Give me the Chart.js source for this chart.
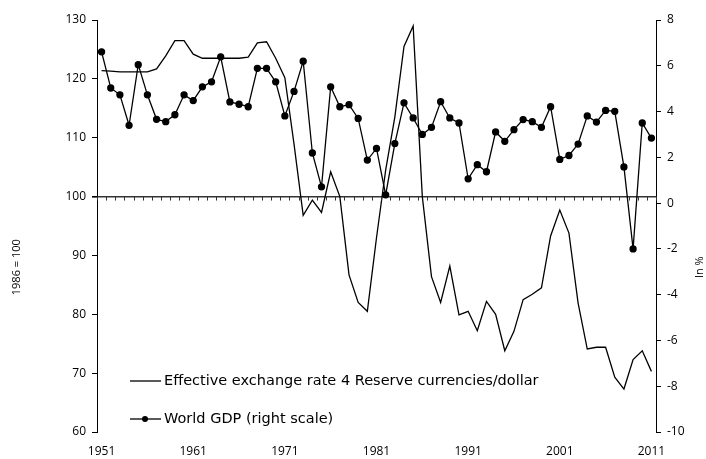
<!DOCTYPE html>
<html>
<head>
<meta charset="utf-8">
<script src="https://cdn.jsdelivr.net/npm/chart.js@4.4.0/dist/chart.umd.min.js"></script>
<style>
  body { margin: 0; background: #fff; }
  #wrap { width: 706px; height: 459px; position: relative; }
</style>
</head>
<body>
<div id="wrap"><canvas id="rateChart"></canvas></div>
<script>
// Years on the category axis
const years = [
  "1951", "1952", "1953", "1954", "1955", "1956", "1957", "1958", "1959", "1960",
  "1961", "1962", "1963", "1964", "1965", "1966", "1967", "1968", "1969", "1970",
  "1971", "1972", "1973", "1974", "1975", "1976", "1977", "1978", "1979", "1980",
  "1981", "1982", "1983", "1984", "1985", "1986", "1987", "1988", "1989", "1990",
  "1991", "1992", "1993", "1994", "1995", "1996", "1997", "1998", "1999", "2000",
  "2001", "2002", "2003", "2004", "2005", "2006", "2007", "2008", "2009", "2010",
  "2011"
];

// Effective exchange rate, 1986 = 100 (left scale)
const exchangeRate = [
  121.4, 121.3, 121.2, 121.2, 121.2, 121.2, 121.7, 123.9, 126.5, 126.5,
  124.2, 123.5, 123.5, 123.5, 123.5, 123.5, 123.7, 126.1, 126.3, 123.5,
  120.2, 108.9, 96.8, 99.4, 97.3, 104.2, 100.0, 86.7, 82.0, 80.5,
  93.0, 104.5, 113.5, 125.5, 129.0, 100.0, 86.4, 82.0, 88.2, 79.9,
  80.5, 77.2, 82.2, 80.0, 73.8, 77.1, 82.5, 83.4, 84.5, 93.3,
  97.7, 93.8, 81.9, 74.1, 74.4, 74.4, 69.3, 67.3, 72.3, 73.8,
  70.3
];

// World GDP growth in % (right scale)
const worldGdp = [
  6.61, 5.03, 4.73, 3.40, 6.05, 4.73, 3.66, 3.56, 3.86, 4.73,
  4.48, 5.08, 5.30, 6.39, 4.42, 4.32, 4.21, 5.89, 5.89, 5.30,
  3.81, 4.88, 6.20, 2.19, 0.71, 5.08, 4.21, 4.30, 3.70, 1.88,
  2.39, 0.36, 2.60, 4.38, 3.72, 3.00, 3.31, 4.43, 3.72, 3.50,
  1.06, 1.68, 1.37, 3.11, 2.70, 3.21, 3.65, 3.56, 3.31, 4.21,
  1.91, 2.08, 2.58, 3.81, 3.54, 4.05, 4.01, 1.58, -2.00, 3.50,
  2.84
];

const seriesLabels = [
  "Effective exchange rate 4 Reserve currencies/dollar",
  "World GDP (right scale)"
];
const leftTitle = "1986 = 100";
const rightTitle = "In %";

const fontFamily = "'Open Sans', 'DejaVu Sans', sans-serif";
const legendFont = "'DejaVu Sans', sans-serif";

// minor ticks along the 100 line, legend inside the plot, axis titles
const decorations = {
  id: "decorations",
  afterDatasetsDraw(chart) {
    const { ctx, chartArea, scales } = chart;
    const x = scales.x;
    const yBase = scales.y.getPixelForValue(100);
    const half = (x.getPixelForValue(1) - x.getPixelForValue(0)) / 2;

    ctx.save();
    ctx.strokeStyle = "#333";
    ctx.lineWidth = 1;
    for (let i = 0; i <= years.length; i++) {
      const px = Math.round(x.getPixelForValue(i) - half) + 0.5;
      ctx.beginPath();
      ctx.moveTo(px, yBase);
      ctx.lineTo(px, yBase + 4);
      ctx.stroke();
    }

    // legend
    const lx = chartArea.left + 33;
    const rows = [chartArea.bottom - 51, chartArea.bottom - 13];
    ctx.font = "14.5px " + legendFont;
    ctx.fillStyle = "#000";
    ctx.textBaseline = "middle";
    rows.forEach((ly, i) => {
      ctx.strokeStyle = "#000";
      ctx.lineWidth = 1.3;
      ctx.beginPath();
      ctx.moveTo(lx, ly);
      ctx.lineTo(lx + 31, ly);
      ctx.stroke();
      if (i === 1) {
        ctx.beginPath();
        ctx.arc(lx + 15, ly, 3, 0, Math.PI * 2);
        ctx.fill();
      }
      ctx.fillText(seriesLabels[i], lx + 34, ly);
    });

    // rotated axis titles
    const ty = chartArea.top + (chartArea.bottom - chartArea.top) * 0.6;
    ctx.font = "11px " + fontFamily;
    ctx.textAlign = "center";
    [[17, leftTitle], [chart.width - 6, rightTitle]].forEach(([tx, txt]) => {
      ctx.save();
      ctx.translate(tx, ty);
      ctx.rotate(-Math.PI / 2);
      ctx.fillText(txt, 0, 0);
      ctx.restore();
    });
    ctx.restore();
  }
};

new Chart(document.getElementById("rateChart"), {
  type: "line",
  data: {
    labels: years,
    datasets: [
      {
        label: seriesLabels[0],
        data: exchangeRate,
        yAxisID: "y",
        borderColor: "#000",
        borderWidth: 1.3,
        pointRadius: 0,
        tension: 0
      },
      {
        label: seriesLabels[1],
        data: worldGdp,
        yAxisID: "y1",
        borderColor: "#000",
        backgroundColor: "#000",
        borderWidth: 1.3,
        pointRadius: 3,
        pointBackgroundColor: "#000",
        tension: 0
      }
    ]
  },
  options: {
    responsive: true,
    maintainAspectRatio: false,
    animation: false,
    layout: { padding: { top: 20, left: 0, right: 0, bottom: 0 } },
    plugins: {
      legend: { display: false },
      tooltip: { enabled: false }
    },
    scales: {
      x: {
        type: "category",
        offset: true,
        grid: { display: false },
        border: { display: false },
        ticks: {
          autoSkip: false,
          maxRotation: 0,
          padding: 4,
          color: "#000",
          font: { size: 12, family: fontFamily },
          callback: (v, i) => (i % 10 === 0 ? years[i] : "")
        },
        afterFit: (s) => { s.height = 27; }
      },
      y: {
        position: "left",
        min: 60,
        max: 130,
        ticks: {
          stepSize: 10,
          padding: 6,
          color: "#000",
          font: { size: 12, family: fontFamily }
        },
        grid: {
          color: (c) => (c.tick && c.tick.value === 100 ? "#333" : "rgba(0,0,0,0)"),
          lineWidth: (c) => (c.tick && c.tick.value === 100 ? 1.6 : 1),
          tickColor: "#000",
          tickLength: 5
        },
        border: { color: "#000", width: 1 },
        afterFit: (s) => { s.width = 97; }
      },
      y1: {
        position: "right",
        min: -10,
        max: 8,
        ticks: {
          stepSize: 2,
          padding: 6,
          color: "#000",
          font: { size: 12, family: fontFamily }
        },
        grid: {
          drawOnChartArea: false,
          tickColor: "#000",
          tickLength: 5
        },
        border: { color: "#000", width: 1 },
        afterFit: (s) => { s.width = 50; }
      }
    }
  },
  plugins: [decorations]
});
</script>
</body>
</html>
